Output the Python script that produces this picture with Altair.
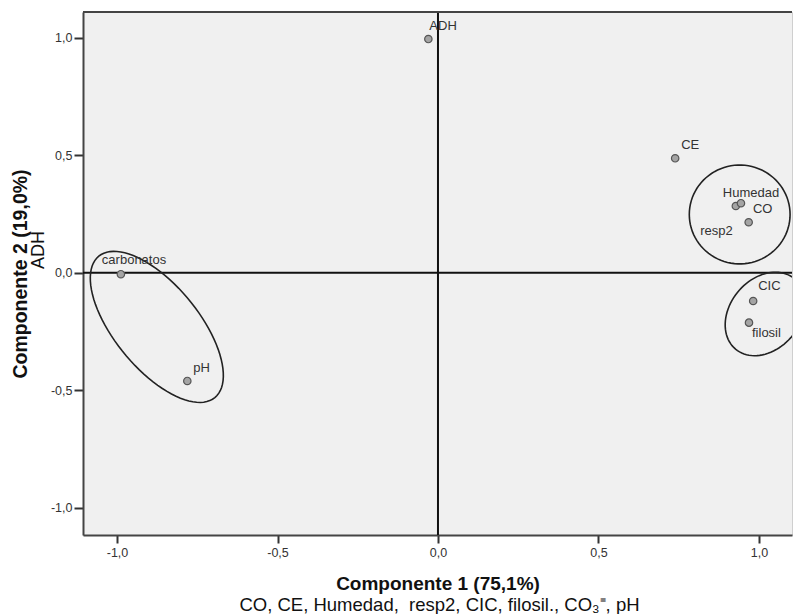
import altair as alt
import pandas as pd

# Component loadings (rotated space), decimal comma labels
variables = ["ADH", "CE", "Humedad", "CO", "resp2", "CIC", "filosil", "carbonatos", "pH"]
comp1 = [-0.030, 0.739, 0.928, 0.944, 0.968, 0.982, 0.969, -0.988, -0.781]
comp2 = [0.994, 0.487, 0.284, 0.296, 0.215, -0.120, -0.212, -0.006, -0.460]

tick_values = [-1.0, -0.5, 0.0, 0.5, 1.0]

# Grouping ellipses: centre (data units), semi-axes (x-units), rotation (deg)
ellipse_cx = [0.940, 1.019, -0.876]
ellipse_cy = [0.248, -0.175, -0.230]
ellipse_a = [0.157, 0.143, 0.285]
ellipse_b = [0.154, 0.109, 0.131]
ellipse_angle = [0.0, 50.0, -50.6]

x_title = "Componente 1 (75,1%)"
x_subtitle = "CO, CE, Humedad,\u00a0 resp2, CIC, filosil., CO\u2083\u207c, pH"
y_title = "Componente 2 (19,0%)"
y_subtitle = "ADH"

W, H = 709, 523
x_dom = [-1.106, 1.103]
y_dom = [-1.115, 1.109]
# ratio converting an x-unit length into the y-unit length of equal pixels
k = (W / (x_dom[1] - x_dom[0])) / (H / (y_dom[1] - y_dom[0]))

FONT = "Liberation Sans"
label_expr = "replace(replace(format(datum.value, '.1f'), '.', ','), '\u2212', '-')"

x_scale = alt.Scale(domain=x_dom, nice=False, zero=False)
y_scale = alt.Scale(domain=y_dom, nice=False, zero=False)

x_axis = alt.Axis(values=tick_values, labelExpr=label_expr, grid=False,
                  title=x_title, titleFont=FONT, titleFontSize=19, titleFontWeight="bold",
                  titleColor="#111", titleBaseline="middle", titleY=48,
                  labelFont=FONT, labelFontSize=12.5, labelColor="#333", labelPadding=3,
                  tickSize=8, tickWidth=2, tickColor="#333",
                  domainColor="#444", domainWidth=2)
y_axis = alt.Axis(values=tick_values, labelExpr=label_expr, grid=False,
                  title=y_title, titleFont=FONT, titleFontSize=19.5, titleFontWeight="bold",
                  titleColor="#111", titleBaseline="middle", titleAlign="center",
                  titleX=-63, titleY=H / 2, titleAngle=270,
                  labelFont=FONT, labelFontSize=12.5, labelColor="#333", labelPadding=2,
                  tickSize=9, tickWidth=2, tickColor="#333",
                  domainColor="#444", domainWidth=2)

df = pd.DataFrame({"var": variables, "c1": comp1, "c2": comp2})

base = alt.Chart(df)

# zero reference lines
zero_df = pd.DataFrame({"v": [0.0]})
vline = alt.Chart(zero_df).mark_rule(color="#111", strokeWidth=2).encode(
    x=alt.X("v:Q", scale=x_scale, axis=x_axis))
hline = alt.Chart(zero_df).mark_rule(color="#111", strokeWidth=2).encode(
    y=alt.Y("v:Q", scale=y_scale, axis=y_axis))

# top frame edge
top_edge = alt.Chart(zero_df).mark_rule(color="#444", strokeWidth=2).encode(
    x=alt.value(0), x2=alt.value(W), y=alt.value(0))

# ellipses drawn through the data scales
ellipses = []
for cx, cy, a, b, ang in zip(ellipse_cx, ellipse_cy, ellipse_a, ellipse_b, ellipse_angle):
    e = (
        alt.Chart(alt.sequence(0, 364, 4, as_="t"))
        .transform_calculate(
            r="datum.t * PI / 180",
        )
        .transform_calculate(
            ex=f"{cx} + {a} * cos(datum.r) * cos({ang} * PI / 180) - {b} * sin(datum.r) * sin({ang} * PI / 180)",
            ey=f"{cy} + {k} * ({a} * cos(datum.r) * sin({ang} * PI / 180) + {b} * sin(datum.r) * cos({ang} * PI / 180))",
        )
        .mark_line(color="#222", strokeWidth=1.6, clip=True)
        .encode(
            x=alt.X("ex:Q", scale=x_scale, axis=x_axis),
            y=alt.Y("ey:Q", scale=y_scale, axis=y_axis),
            order="t:Q",
        )
    )
    ellipses.append(e)

points = base.mark_point(filled=True, shape="circle", size=55, fill="#a4a4a4",
                         stroke="#555", strokeWidth=1.2, opacity=1).encode(
    x=alt.X("c1:Q", scale=x_scale, axis=x_axis),
    y=alt.Y("c2:Q", scale=y_scale, axis=y_axis),
)

# label placement per variable: (align, dx, dy)
placement = {
    "ADH": ("left", 1, -13),
    "CE": ("left", 6, -13),
    "Humedad": ("left", -13, -13),
    "CO": ("left", 12, 6),
    "resp2": ("right", -16, 9),
    "CIC": ("left", 5, -15),
    "filosil": ("left", 3, 10),
    "carbonatos": ("left", -19, -14),
    "pH": ("left", 6, -13),
}

labels = []
for name, (align, dx, dy) in placement.items():
    t = base.transform_filter(alt.datum["var"] == name).mark_text(
        align=align, baseline="middle", dx=dx, dy=dy,
        font=FONT, fontSize=13, color="#333",
    ).encode(
        x=alt.X("c1:Q", scale=x_scale, axis=x_axis),
        y=alt.Y("c2:Q", scale=y_scale, axis=y_axis),
        text="var:N",
    )
    labels.append(t)

x_sub = alt.Chart(zero_df).mark_text(
    font=FONT, fontSize=18.5, color="#111", align="center", baseline="middle"
).encode(x=alt.value(W / 2 + 2), y=alt.value(H + 70), text=alt.value(x_subtitle))

y_sub = alt.Chart(zero_df).mark_text(
    font=FONT, fontSize=18, color="#111", align="center", baseline="middle", angle=270
).encode(x=alt.value(-44), y=alt.value(238), text=alt.value(y_subtitle))

chart = (
    alt.layer(hline, vline, top_edge, *ellipses, points, *labels, x_sub, y_sub)
    .properties(
        width=W, height=H,
        autosize="none",
        padding={"left": 83, "top": 12, "right": 2, "bottom": 79},
        background="white",
    )
    .configure_view(fill="#f0f0f0", stroke="#cfcfcf", strokeWidth=1)
)

chart.save("out.html", embed_options={"renderer": "svg", "actions": False})
